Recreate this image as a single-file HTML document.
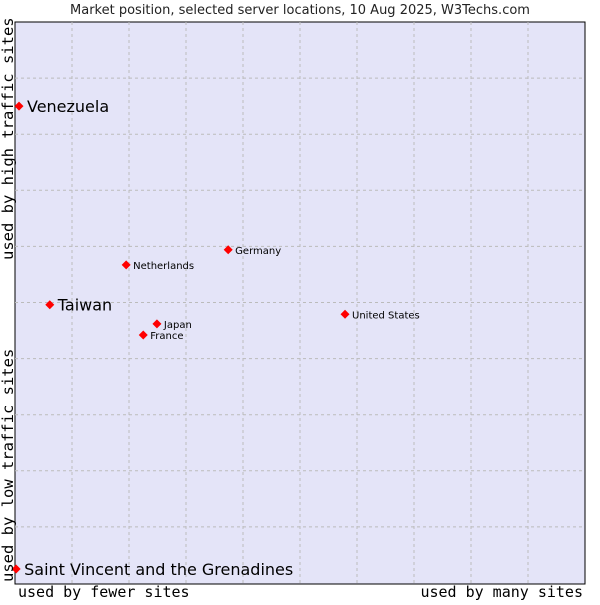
<!DOCTYPE html>
<html><head><meta charset="utf-8"><style>
body{margin:0;background:#fff;width:600px;height:600px;overflow:hidden}
svg text{font-family:"DejaVu Sans","Liberation Sans",sans-serif}
</style></head><body>
<svg id="c" width="600" height="600">
<text x="300" y="14" text-anchor="middle" font-size="13" fill="#222">Market position, selected server locations, 10 Aug 2025, W3Techs.com</text>
<rect x="15" y="22" width="570" height="562" fill="#e4e4f8" stroke="#000"/>
<g id="grid"></g>
<g id="pts"></g>
<text x="18" y="597" font-size="15" fill="#000" style="font-family:'DejaVu Sans Mono',monospace">used by fewer sites</text>
<text x="583" y="597" text-anchor="end" font-size="15" fill="#000" style="font-family:'DejaVu Sans Mono',monospace">used by many sites</text>
<text transform="translate(13,260) rotate(-90)" font-size="15.5" fill="#000" style="font-family:'DejaVu Sans Mono',monospace">used by high traffic sites</text>
<text transform="translate(13,582) rotate(-90)" font-size="15.5" fill="#000" style="font-family:'DejaVu Sans Mono',monospace">used by low traffic sites</text>
</svg>
<script>
const names=["Venezuela","Taiwan","Saint Vincent and the Grenadines","Germany","Netherlands","Japan","France","United States"];
const xVals=[0.7,6.1,0.2,37.4,19.5,24.9,22.5,57.9];
const yVals=[85.0,49.6,2.5,59.4,56.7,46.2,44.2,47.9];
const big=[true,true,true,false,false,false,false,false];
const L=15,R=585,T=22,B=583;
const sx=v=>L+v/100*(R-L), sy=v=>B-v/100*(B-T);
const NS="http://www.w3.org/2000/svg";
const g=document.getElementById('grid');
for(let i=1;i<10;i++){
 let l=document.createElementNS(NS,'line');
 
 
 l.setAttribute('x1',sx(i*10));l.setAttribute('x2',sx(i*10));l.setAttribute('y1',T);l.setAttribute('y2',B);
 l.setAttribute('stroke','#bbb');l.setAttribute('stroke-dasharray','3,3');g.appendChild(l);
 let h=document.createElementNS(NS,'line');
 
 
 h.setAttribute('x1',L);h.setAttribute('x2',R);h.setAttribute('y1',sy(i*10));h.setAttribute('y2',sy(i*10));
 h.setAttribute('stroke','#bbb');h.setAttribute('stroke-dasharray','3,3');g.appendChild(h);
}
const p=document.getElementById('pts');
names.forEach((n,i)=>{
 const x=sx(xVals[i]),y=sy(yVals[i]);
 let d=document.createElementNS(NS,'polygon');
 
 
 d.setAttribute('points',`${x},${y-4.5} ${x+4.5},${y} ${x},${y+4.5} ${x-4.5},${y}`);
 d.setAttribute('fill','#f00');p.appendChild(d);
 let t=document.createElementNS(NS,'text');
 
 
 t.setAttribute('x',x+(big[i]?8:7));t.setAttribute('y',y+(big[i]?6:4));
 t.setAttribute('font-size',big[i]?16:10);t.setAttribute('fill','#000');
 t.textContent=n;p.appendChild(t);
});
</script>
</body></html>
